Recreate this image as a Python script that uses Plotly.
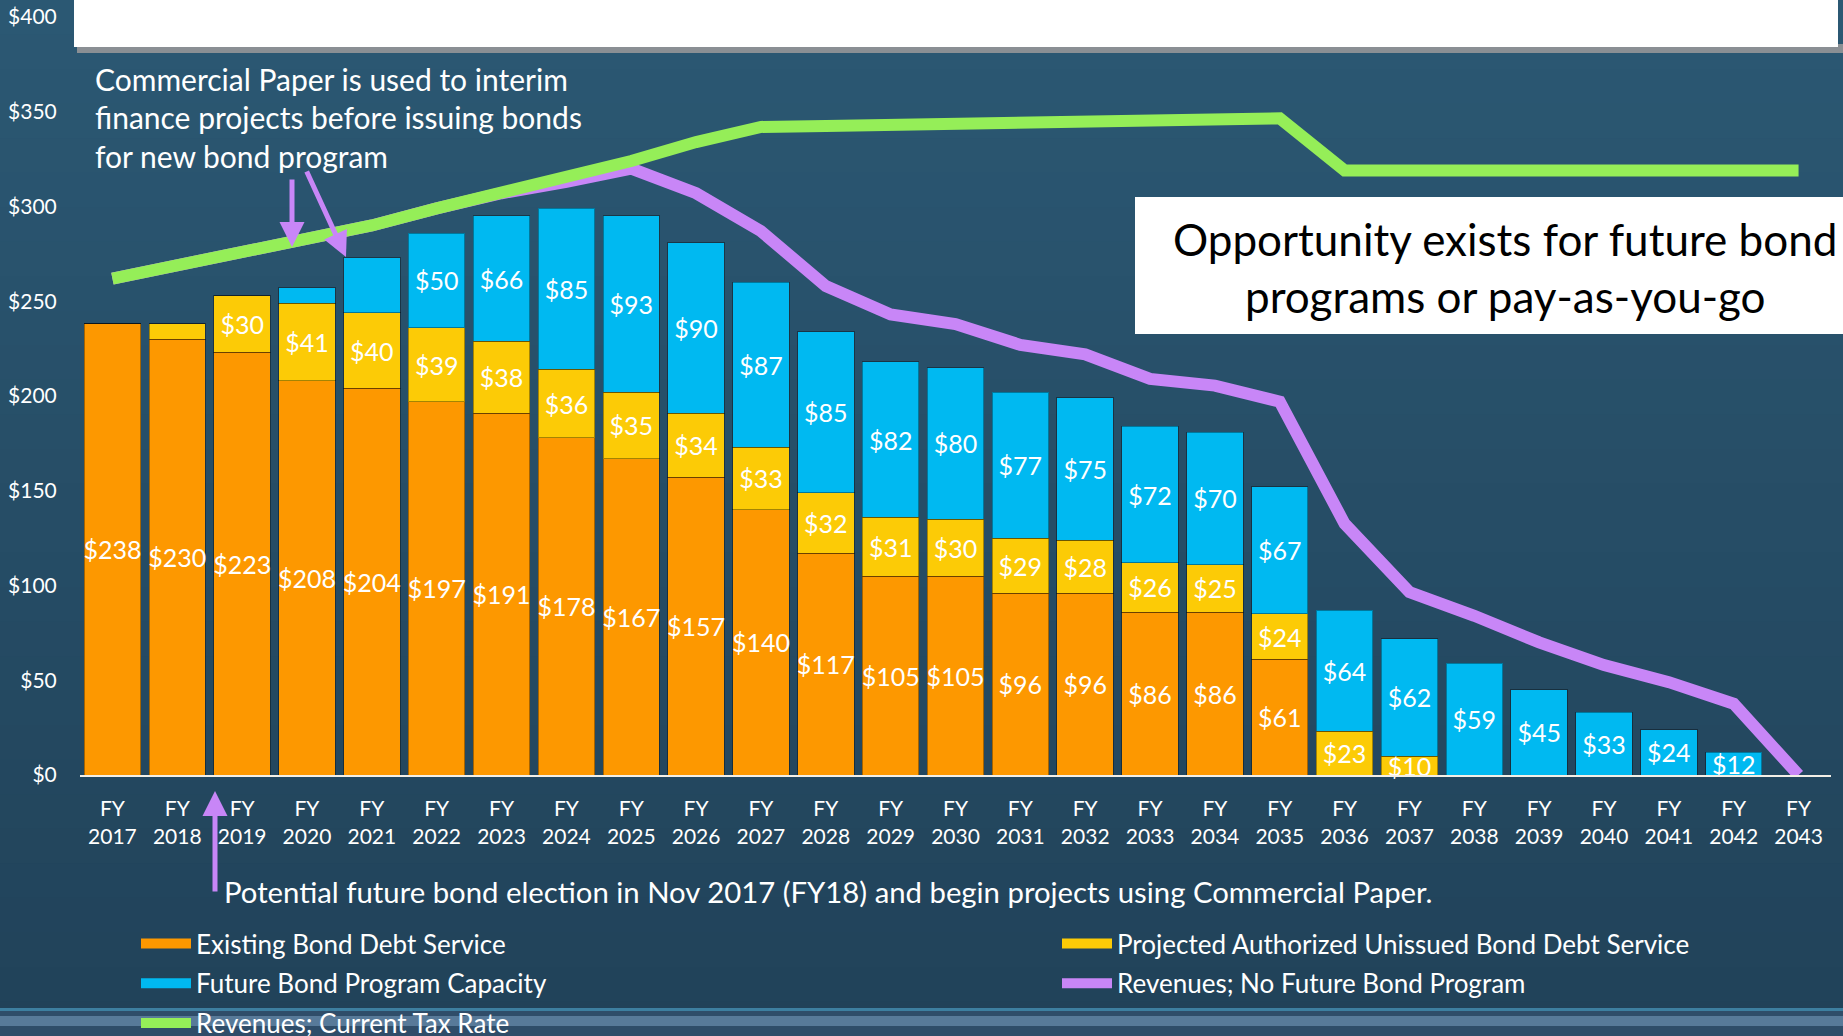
import plotly.graph_objects as go

# values in $ millions
years = [str(y) for y in range(2017, 2044)]
categories = ["FY<br>" + y for y in years]

existing = [238, 230, 223, 208, 204, 197, 191, 178, 167, 157, 140, 117, 105, 105,
            96, 96, 86, 86, 61, 0, 0, 0, 0, 0, 0, 0, 0]
authorized = [0, 8, 30, 41, 40, 39, 38, 36, 35, 34, 33, 32, 31, 30,
              29, 28, 26, 25, 24, 23, 10, 0, 0, 0, 0, 0, 0]
future = [0, 0, 0, 8, 29, 50, 66, 85, 93, 90, 87, 85, 82, 80,
          77, 75, 72, 70, 67, 64, 62, 59, 45, 33, 24, 12, 0]
rev_current = [262, 269, 275, 282, 290, 299, 307, 315, 324, 334, 342, 342.5, 343, 343.5,
               344, 344.5, 345, 345.5, 346.5, 319, 319, 319, 319, 319, 319, 319, 319]
rev_no_future = [262, 269, 275, 282, 290, 299, 307, 313, 320, 307, 287, 258, 243, 238,
                 227, 222, 209, 205.5, 197, 132.6, 96.5, 84, 70, 58, 49, 37.6, 0]
unlabeled_future = ["2021"]

W, H = 1843, 1036
ML, MR, MT, MB = 80, 12, 17, 261
PW, PH = W - ML - MR, H - MT - MB


def px(x):
    return (x - ML) / PW


def py(y):
    return (H - MB - y) / PH


def labels(vals, skip=()):
    return [f"${v}" if v >= 10 and yr not in skip else "" for v, yr in zip(vals, years)]


FONT = "Lato"
ORANGE, YELLOW, BLUE = "#FD9800", "#FCCB06", "#00B9F1"
GREEN, PURPLE = "#95EE58", "#C886F7"

fig = go.Figure()
for name, vals, color, skip, leg in [
    ("Existing Bond Debt Service", existing, ORANGE, (), "legend"),
    ("Projected Authorized Unissued Bond Debt Service", authorized, YELLOW, (), "legend2"),
    ("Future Bond Program Capacity", future, BLUE, unlabeled_future, "legend"),
]:
    fig.add_trace(go.Bar(
        x=categories, y=vals, name=name, legendgroup=name, showlegend=False,
        marker=dict(color=color, line=dict(color="rgba(0,0,0,0.35)", width=1)),
        text=labels(vals, skip), textposition="inside", insidetextanchor="middle",
        textangle=0, textfont=dict(color="white", size=25, family=FONT),
        cliponaxis=False,
    ))
    # wide legend swatch standing in for the bar series
    fig.add_trace(go.Scatter(x=[None], y=[None], name=name, legend=leg, legendgroup=name,
                             mode="lines", line=dict(color=color, width=16), hoverinfo="skip"))

fig.add_trace(go.Scatter(x=categories, y=rev_no_future, name="Revenues; No Future Bond Program",
                         legend="legend2", legendgroup="nofuture",
                         mode="lines", line=dict(color=PURPLE, width=12), cliponaxis=False))
fig.add_trace(go.Scatter(x=categories, y=rev_current, name="Revenues; Current Tax Rate",
                         legend="legend", legendgroup="current",
                         mode="lines", line=dict(color=GREEN, width=12), cliponaxis=False))

# slide background gradient
shapes = []
n = 30
top, bot = (0x2B, 0x58, 0x73), (0x21, 0x42, 0x59)
for i in range(n):
    t = i / (n - 1)
    c = tuple(round(a + (b - a) * t) for a, b in zip(top, bot))
    shapes.append(dict(type="rect", xref="paper", yref="paper", layer="below",
                       x0=px(-5), x1=px(W + 5), y0=py(H * (i + 1) / n + 1), y1=py(H * i / n),
                       fillcolor="rgb(%d,%d,%d)" % c, line_width=0))
# footer strip
shapes += [
    dict(type="rect", xref="paper", yref="paper", layer="below", x0=px(-5), x1=px(W + 5),
         y0=py(1011), y1=py(1008), fillcolor="#3d7fa0", line_width=0),
    dict(type="rect", xref="paper", yref="paper", layer="below", x0=px(-5), x1=px(W + 5),
         y0=py(1040), y1=py(1011), fillcolor="#2f4d69", line_width=0),
    dict(type="rect", xref="paper", yref="paper", layer="below", x0=px(-5), x1=px(W + 5),
         y0=py(1026), y1=py(1016), fillcolor="#587a99", line_width=0),
]
# title box (cut off at top) and its shadow
shapes += [
    dict(type="rect", xref="paper", yref="paper", layer="below", x0=px(77), x1=px(1843),
         y0=py(53), y1=py(44), fillcolor="#8a8f94", line_width=0),
    dict(type="rect", xref="paper", yref="paper", layer="below", x0=px(74), x1=px(1838),
         y0=py(47), y1=py(-20), fillcolor="white", line_width=0),
    # opportunity box
    dict(type="rect", xref="paper", yref="paper", layer="above", x0=px(1135), x1=px(1880),
         y0=py(334), y1=py(197), fillcolor="white", line_width=0),
]

annotations = []
for i, line in enumerate(["Commercial Paper is used to interim",
                          "finance projects before issuing bonds",
                          "for new bond program"]):
    annotations.append(dict(text=line, x=px(93), y=py(79 + 38.5 * i), xref="paper", yref="paper",
                            xanchor="left", yanchor="middle", showarrow=False,
                            font=dict(size=30, color="white", family=FONT)))
for i, line in enumerate(["Opportunity exists for future bond", "programs or pay-as-you-go"]):
    annotations.append(dict(text=line, x=px(1505), y=py(239 + 57 * i), xref="paper", yref="paper",
                            xanchor="center", yanchor="middle", showarrow=False,
                            font=dict(size=44, color="black", family=FONT)))
annotations.append(dict(
    text="Potential future bond election in Nov 2017 (FY18) and begin projects using Commercial Paper.",
    x=px(222), y=py(891), xref="paper", yref="paper", xanchor="left", yanchor="middle",
    showarrow=False, font=dict(size=29.3, color="white", family=FONT)))
# arrows (tip, tail)
for (tx, ty), (sx, sy) in [((292, 247), (292, 178)), ((346, 257), (306, 170)),
                           ((215, 791), (215, 893))]:
    annotations.append(dict(text="", x=px(tx), y=py(ty), xref="paper", yref="paper",
                            ax=sx - tx, ay=sy - ty, axref="pixel", ayref="pixel",
                            showarrow=True, arrowhead=2, arrowsize=1, arrowwidth=5,
                            arrowcolor=PURPLE))

legend_style = dict(xanchor="left", yanchor="top", itemwidth=50, tracegroupgap=3,
                    bgcolor="rgba(0,0,0,0)", traceorder="grouped",
                    font=dict(size=26, color="white", family=FONT))

fig.update_layout(
    width=W, height=H,
    margin=dict(l=ML, r=MR, t=MT, b=MB, pad=0, autoexpand=False),
    paper_bgcolor="#244a63", plot_bgcolor="rgba(0,0,0,0)",
    barmode="stack", bargap=0.13,
    uniformtext=dict(minsize=25, mode="show"),
    font=dict(family=FONT, color="white"),
    xaxis=dict(type="category", range=[-0.5, 26.5], showgrid=False, showline=True,
               linecolor="#f3efe6", linewidth=2, ticks="outside", ticklen=14,
               tickcolor="rgba(0,0,0,0)", tickfont=dict(size=21, color="white")),
    yaxis=dict(range=[0, 400], dtick=50, tickprefix="$", showgrid=False, zeroline=False,
               ticks="outside", ticklen=18, tickcolor="rgba(0,0,0,0)",
               tickfont=dict(size=21, color="white")),
    showlegend=True,
    legend=dict(x=px(136), y=py(920), **legend_style),
    legend2=dict(x=px(1057), y=py(920), **legend_style),
    shapes=shapes, annotations=annotations,
)

fig.write_html("out.html", config={"displayModeBar": False},
               post_script="document.body.style.margin='0';")
